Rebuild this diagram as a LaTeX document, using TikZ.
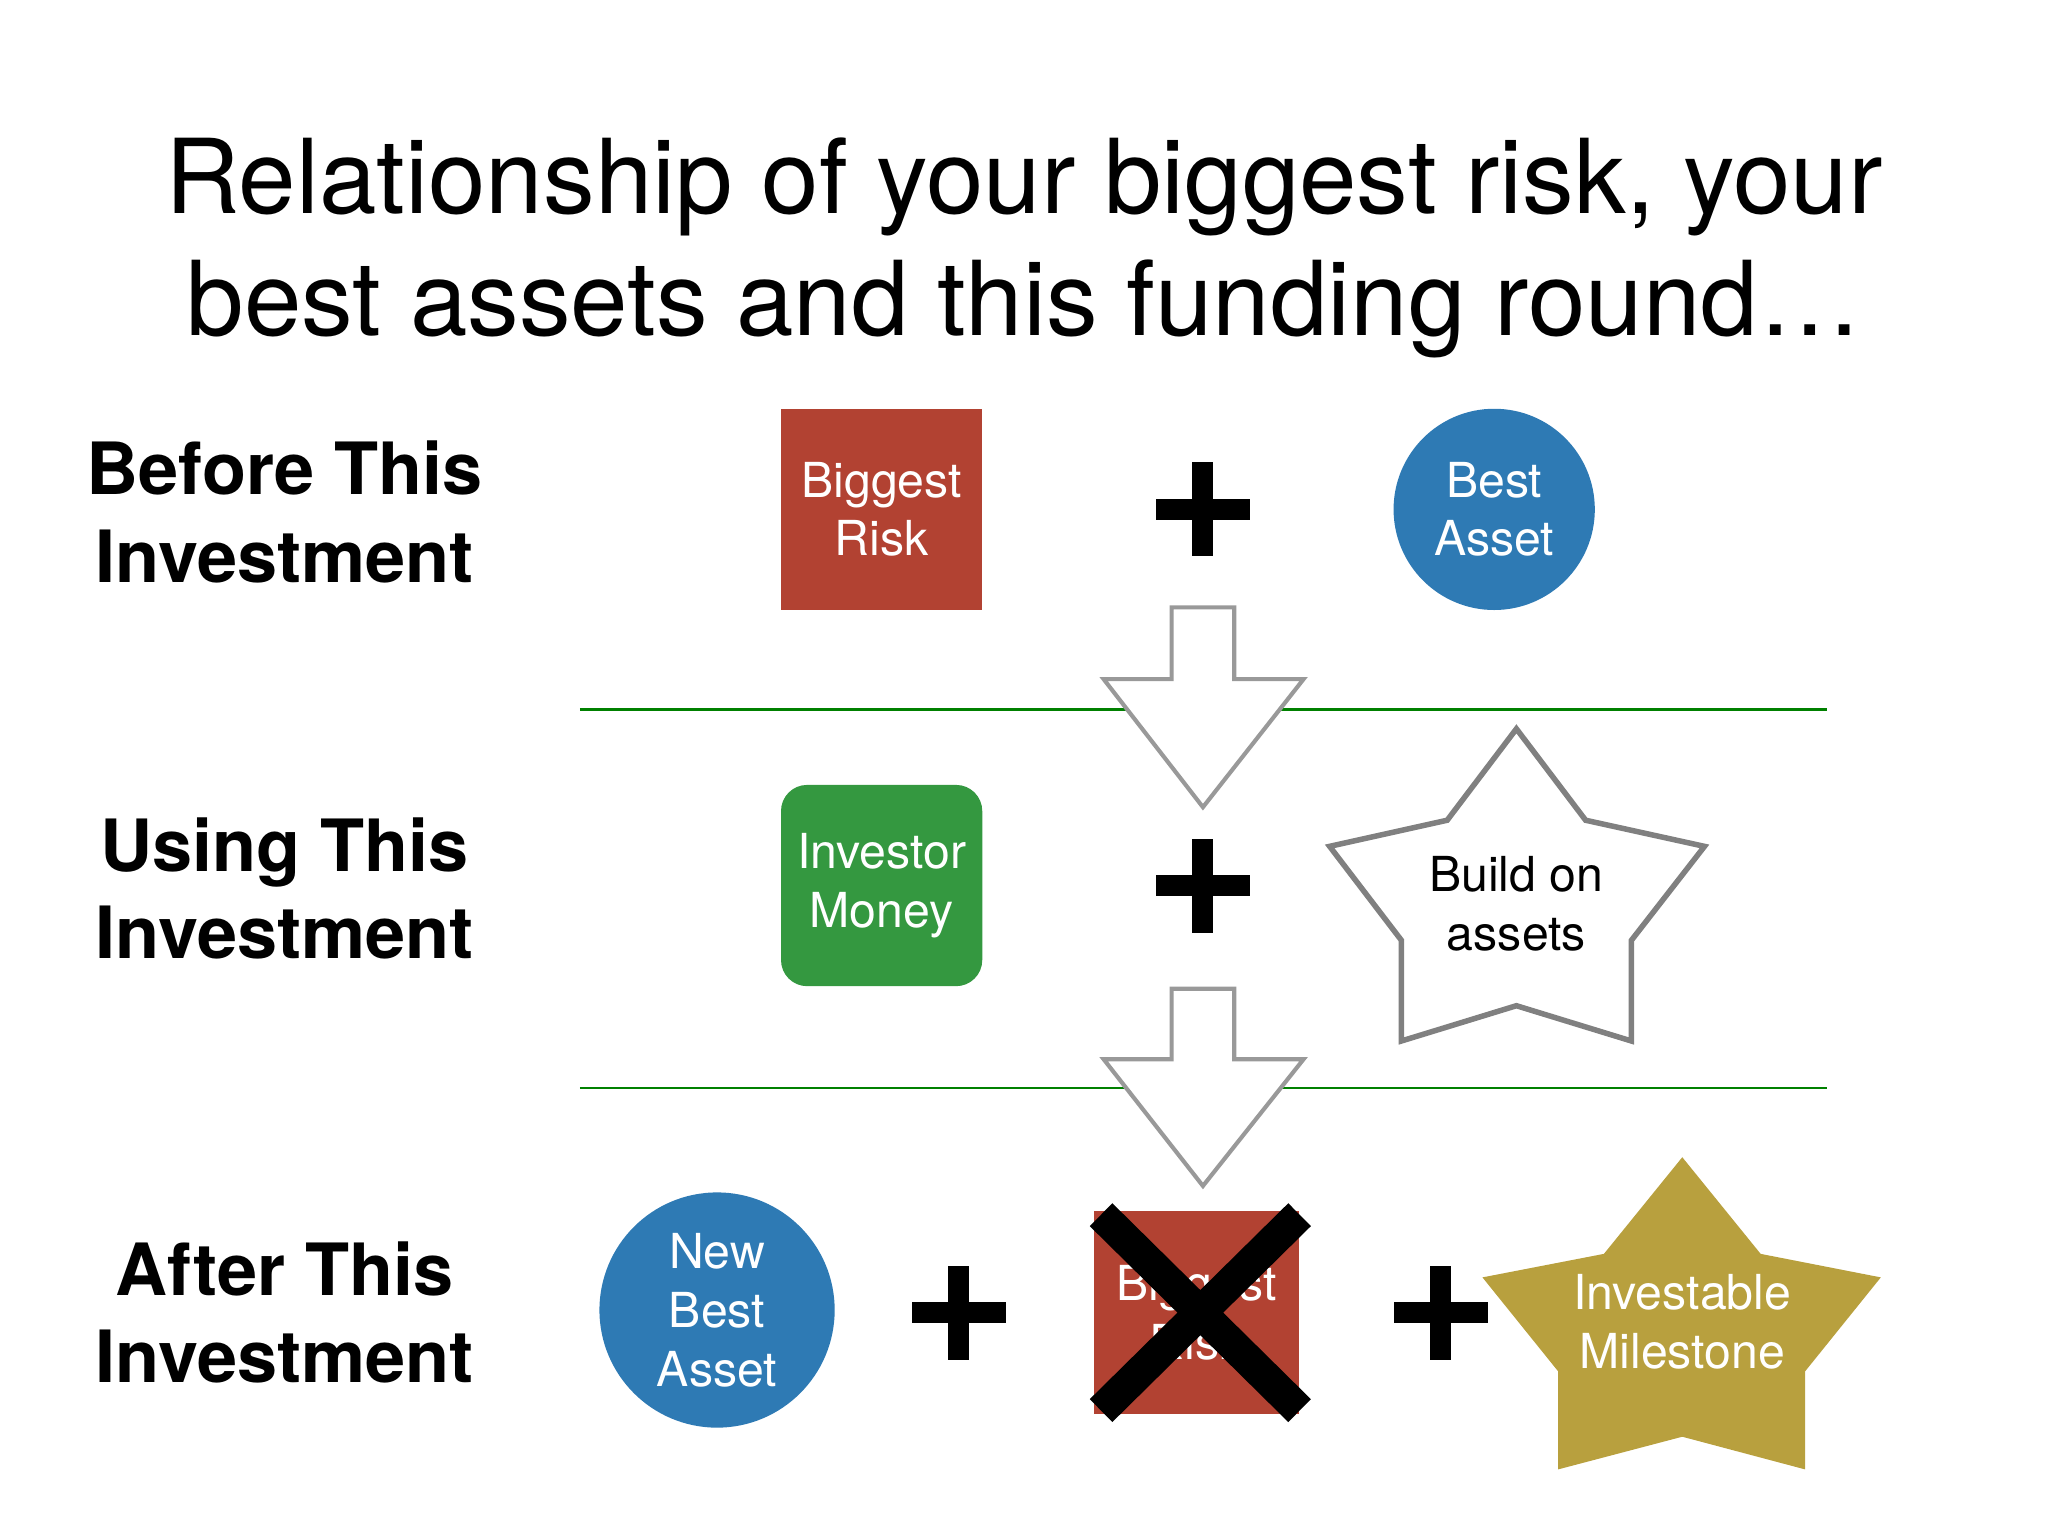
\documentclass[tikz,border=0pt]{standalone}
\usepackage{fontspec}
\setmainfont{TeX Gyre Heros}
\definecolor{riskred}{RGB}{178,66,50}
\definecolor{assetblue}{RGB}{46,122,180}
\definecolor{moneygreen}{RGB}{52,152,64}
\definecolor{gold}{RGB}{184,160,62}
\begin{document}
\begin{tikzpicture}[x=0.01cm,y=-0.01cm,
  lbl/.style={font=\fontsize{15.7}{19}\selectfont\bfseries,align=center},
  inner/.style={font=\fontsize{10.5}{12.8}\selectfont,align=center,text=white},
  arr/.style={draw=gray!80,line width=0.9pt,fill=white},
  sep/.style={draw=green!50!black,line width=0.6pt}]
\useasboundingbox (0,0) rectangle (1568,1176);
\node[font=\fontsize{22.5}{26.5}\selectfont,align=center] (title) at (784,190) {Relationship of your biggest risk, your\\best assets and this funding round\dots};
\node[lbl] (l1) at (218,392) {Before This\\Investment};
\node[lbl] (l2) at (218,680) {Using This\\Investment};
\node[lbl] (l3) at (218,1005) {After This\\Investment};
\draw[sep] (444,543) -- (1399,543);
\draw[sep] (444,833) -- (1399,833);
% arrows
\draw[arr] (897,465) -- (945,465) -- (945,520) -- (998,520) -- (921,618) -- (845,520) -- (897,520) -- cycle;
\draw[arr] (897,757) -- (945,757) -- (945,811) -- (998,811) -- (921,908) -- (845,811) -- (897,811) -- cycle;
% row 1
\node[fill=riskred,minimum size=1.54cm,inner sep=0,inner] (risk) at (675,390) {Biggest\\Risk};
\node[circle,fill=assetblue,minimum size=1.54cm,inner sep=0,inner] (asset) at (1144,390) {Best\\Asset};
% row 2
\node[rounded corners=0.2cm,fill=moneygreen,minimum size=1.54cm,inner sep=0,inner] (money) at (675,678) {Investor\\Money};
\draw[gray,line width=1.2pt,fill=white] (1161,558) -- (1214,628) -- (1305,648) -- (1249,720) -- (1249,797) -- (1161,770) -- (1073,797) -- (1073,720) -- (1018,648) -- (1108,628) -- cycle;
\node[font=\fontsize{10.5}{12.8}\selectfont,align=center] (build) at (1161,692) {Build on\\assets};
% row 3
\node[circle,fill=assetblue,minimum size=1.8cm,inner sep=0,inner] (newasset) at (549,1003) {New\\Best\\Asset};
\node[fill=riskred,minimum width=1.57cm,minimum height=1.55cm,inner sep=0,inner] (oldrisk) at (916,1005) {Biggest\\Risk};
\draw[black,line width=7pt] (843,930) -- (995,1080) (995,930) -- (843,1080);
\fill[gold] (1288,886) -- (1348,960) -- (1440,978) -- (1382,1050) -- (1382,1125) -- (1288,1100) -- (1193,1125) -- (1193,1050) -- (1135,978) -- (1228,960) -- cycle;
\node[inner] (mile) at (1288,1012) {Investable\\Milestone};
% plus signs
\foreach \n/\x/\y in {p1/921/390,p2/921/678,p3/734/1005,p4/1103/1005}{
  \fill (\x-36,\y-8) rectangle (\x+36,\y+8);
  \fill (\x-8,\y-36) rectangle (\x+8,\y+36);
  \coordinate (\n) at (\x,\y);
}
\end{tikzpicture}
\end{document}
